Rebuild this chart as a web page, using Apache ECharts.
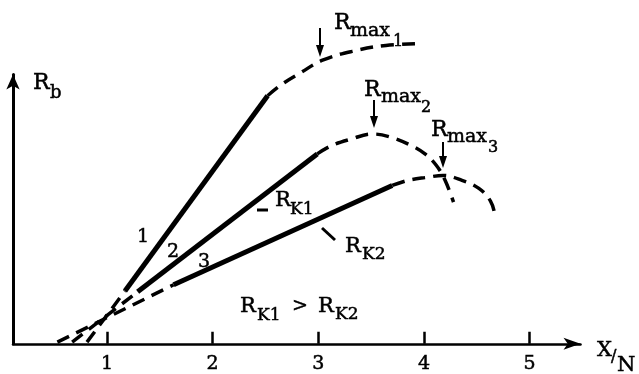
<!DOCTYPE html>
<html>
<head>
<meta charset="utf-8">
<script src="https://cdn.jsdelivr.net/npm/echarts@6/dist/echarts.min.js"></script>
<style>
  html, body { margin: 0; padding: 0; background: #fff; }
  #chart { width: 639px; height: 374px; }
</style>
</head>
<body>
<div id="chart"></div>
<script>
// tick labels on the X/N axis
const xTicks = [1, 2, 3, 4, 5]

// curve 1: dashed start, solid slope, dashed top (Rmax1)
const line1Low = [[0.81, 0.06], [1.17, 1.96]]
const line1Solid = [[1.17, 1.96], [2.52, 9.21]]
const line1High = [[2.52, 9.21], [2.66, 9.65], [2.83, 10.06], [3.04, 10.53], [3.32, 10.86], [3.64, 11.08], [3.99, 11.15]]

// curve 2
const line2Low = [[0.67, 0.06], [1.29, 1.93]]
const line2Solid = [[1.29, 1.93], [2.99, 7.05]]
const line2High = [[2.99, 7.05], [3.12, 7.35], [3.31, 7.60], [3.51, 7.79], [3.68, 7.68], [3.87, 7.38], [4.01, 7.05], [4.12, 6.61], [4.20, 6.07], [4.28, 5.26]]

// curve 3
const line3Low = [[0.53, 0.06], [1.63, 2.19]]
const line3Solid = [[1.63, 2.19], [3.70, 5.88]]
const line3High = [[3.70, 5.88], [3.85, 6.07], [4.03, 6.18], [4.18, 6.25], [4.36, 6.07], [4.52, 5.77], [4.63, 5.30], [4.67, 4.82]]

const FONT = '"DejaVu Serif", serif'
const chart = echarts.init(document.getElementById('chart'), null, { renderer: 'canvas' })

// one text piece, placed by its baseline
function txt (text, left, base, size) {
  return {
    type: 'text',
    x: left,
    y: base - 0.3 * size,
    silent: true,
    style: {
      text: text,
      font: size + 'px ' + FONT,
      fill: '#000',
      stroke: '#000',
      lineWidth: 0.5,
      align: 'left',
      verticalAlign: 'middle',
      textAlign: 'left',
      textVerticalAlign: 'middle'
    }
  }
}

function downArrow (x, y1, y2) {
  return [
    { type: 'line', silent: true, shape: { x1: x, y1: y1, x2: x, y2: y2 - 8 }, style: { stroke: '#000', lineWidth: 2 } },
    { type: 'polygon', silent: true, shape: { points: [[x - 4, y2 - 12], [x + 4, y2 - 12], [x, y2]] }, style: { fill: '#000' } }
  ]
}

function leader (x1, y1, x2, y2) {
  return { type: 'line', silent: true, shape: { x1: x1, y1: y1, x2: x2, y2: y2 }, style: { stroke: '#000', lineWidth: 3 } }
}

function seg (data, kind) {
  let s = {
    type: 'line',
    data: data,
    symbol: 'none',
    clip: false,
    silent: true,
    smooth: kind === 'high' ? 0.4 : false,
    lineStyle: { color: '#000', width: 5, type: 'solid', cap: 'butt' }
  }
  if (kind !== 'solid') {
    s.lineStyle.width = 3.5
    s.lineStyle.type = [13, 8]
  }
  return s
}

let graphics = [
  txt('R', 33, 90, 22), txt('b', 50, 99, 18),
  txt('R', 334, 30, 22), txt('max', 350, 37, 19), txt('1', 393, 47, 16),
  txt('R', 364, 97, 22), txt('max', 381, 103, 19), txt('2', 421, 113, 16),
  txt('R', 431, 137, 22), txt('max', 447, 143, 19), txt('3', 488, 153, 16),
  txt('1', 137, 243, 19), txt('2', 167, 258, 19), txt('3', 198, 268, 19),
  txt('R', 275, 207, 21), txt('K1', 290, 215, 17),
  txt('R', 345, 253, 21), txt('K2', 362, 260, 17),
  txt('R', 240, 313, 21), txt('K1', 257, 321, 17), txt('>', 292, 312, 19),
  txt('R', 318, 313, 21), txt('K2', 335, 320, 17),
  txt('X', 597, 357, 21), txt('/', 611, 362, 16), txt('N', 617, 372, 21),
  leader(257, 210, 268, 210),
  leader(322, 228, 335, 240)
]
graphics = graphics.concat(downArrow(320, 28, 57), downArrow(374, 100, 128), downArrow(443, 142, 168))

const option = {
  animation: false,
  backgroundColor: '#fff',
  grid: { left: 13, right: 58.5, top: 74.5, bottom: 26.3 },
  xAxis: {
    type: 'value',
    min: 0.11,
    max: 5.482,
    splitLine: { show: false },
    axisLine: {
      onZero: false,
      symbol: ['none', 'arrow'],
      symbolSize: [9, 17],
      lineStyle: { color: '#000', width: 2.5 }
    },
    axisTick: {
      inside: true,
      length: 12,
      customValues: xTicks,
      lineStyle: { color: '#000', width: 2.5 }
    },
    axisLabel: {
      customValues: xTicks,
      margin: 11,
      color: '#000',
      fontSize: 19,
      textBorderColor: '#000',
      textBorderWidth: 0.5,
      fontFamily: FONT
    }
  },
  yAxis: {
    type: 'value',
    min: 0,
    max: 10,
    splitLine: { show: false },
    axisTick: { show: false },
    axisLabel: { show: false },
    axisLine: {
      show: true,
      symbol: ['none', 'arrow'],
      symbolSize: [10, 15],
      lineStyle: { color: '#000', width: 3 }
    }
  },
  series: [
    seg(line1Low, 'low'), seg(line1Solid, 'solid'), seg(line1High, 'high'),
    seg(line2Low, 'low'), seg(line2Solid, 'solid'), seg(line2High, 'high'),
    seg(line3Low, 'low'), seg(line3Solid, 'solid'), seg(line3High, 'high')
  ],
  graphic: graphics
}
chart.setOption(option)
</script>
</body>
</html>
